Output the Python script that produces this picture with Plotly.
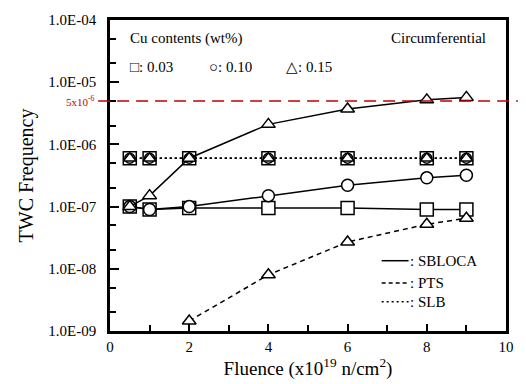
import plotly.graph_objects as go

fluence = [0.5, 1, 2, 4, 6, 8, 9]
fluence_pts = [2, 4, 6, 8, 9]

sbloca_003 = [1.0e-7, 9.0e-8, 9.5e-8, 9.5e-8, 9.5e-8, 9.0e-8, 9.0e-8]
sbloca_010 = [1.0e-7, 9.0e-8, 1.0e-7, 1.5e-7, 2.2e-7, 2.9e-7, 3.2e-7]
sbloca_015 = [1.0e-7, 1.5e-7, 6.0e-7, 2.1e-6, 3.7e-6, 5.2e-6, 5.7e-6]
pts_015 = [1.45e-9, 8.0e-9, 2.7e-8, 5.2e-8, 6.5e-8]
slb_all = [6.0e-7, 6.0e-7, 6.0e-7, 6.0e-7, 6.0e-7, 6.0e-7, 6.0e-7]

limit_value = 5e-6
xtick_vals = [0, 2, 4, 6, 8, 10]
ytick_vals = [1e-9, 1e-8, 1e-7, 1e-6, 1e-5, 1e-4]
ytick_text = ["1.0E-09", "1.0E-08", "1.0E-07", "1.0E-06", "1.0E-05", "1.0E-04"]

FONT = "Liberation Serif"
DASH = "5px,4px"
DOT = "2px,3px"
mk = dict(color="white", line=dict(color="black", width=1.5))

fig = go.Figure()

def add(x, y, dash, symbol, size):
    fig.add_trace(go.Scatter(
        x=x, y=y, mode="lines+markers",
        line=dict(color="black", width=1.5, dash=dash),
        marker=dict(symbol=symbol, size=size, **mk),
        showlegend=False, cliponaxis=False, hoverinfo="skip"))

# SLB
add(fluence, slb_all, DOT, "square", 13)
add(fluence, slb_all, DOT, "circle", 10)
add(fluence, slb_all, DOT, "triangle-up", 11)
# SBLOCA
add(fluence, sbloca_003, "solid", "square", 13)
add(fluence, sbloca_010, "solid", "circle", 12)
add(fluence, sbloca_015, "solid", "triangle-up", 12)
# PTS
add(fluence_pts, pts_015, DASH, "triangle-up", 12)

# red limit line
fig.add_shape(type="line", xref="paper", yref="y", x0=-0.03, x1=1.03,
              y0=limit_value, y1=limit_value,
              line=dict(color="#c00000", width=1.5, dash="12px,7px"))
fig.add_annotation(xref="paper", yref="y", x=-0.032, y=-5.301, yanchor="middle",
                   text="5x10<sup>-6</sup>", showarrow=False, xanchor="right",
                   font=dict(family=FONT, size=11, color="#c00000"))

# top-left text
fig.add_annotation(xref="paper", yref="paper", x=0.045, y=0.94, text="Cu contents (wt%)",
                   showarrow=False, xanchor="left", yanchor="middle",
                   font=dict(family=FONT, size=15, color="black"))
for xp, t in [(0.045, "□: 0.03"), (0.246, "○: 0.10"), (0.44, "△: 0.15")]:
    fig.add_annotation(xref="paper", yref="paper", x=xp, y=0.849, text=t,
                       showarrow=False, xanchor="left", yanchor="middle",
                       font=dict(family=FONT, size=15, color="black"))
fig.add_annotation(xref="paper", yref="paper", x=0.955, y=0.943, text="Circumferential",
                   showarrow=False, xanchor="right", yanchor="middle",
                   font=dict(family=FONT, size=15, color="black"))

# bottom-right line legend
for yp, dash, label in [(0.226, "solid", ": SBLOCA"), (0.154, "4px,3px", ": PTS"), (0.094, DOT, ": SLB")]:
    fig.add_shape(type="line", xref="paper", yref="paper", x0=0.686, x1=0.754, y0=yp, y1=yp,
                  line=dict(color="black", width=1.5, dash=dash))
    fig.add_annotation(xref="paper", yref="paper", x=0.752, y=yp, text=label, showarrow=False,
                       xanchor="left", yanchor="middle",
                       font=dict(family=FONT, size=15, color="black"))

fig.update_layout(
    width=526, height=384,
    margin=dict(l=110, r=18, t=14, b=52),
    paper_bgcolor="white", plot_bgcolor="white",
    font=dict(family=FONT, size=14, color="black"),
    xaxis=dict(range=[0, 10], tickmode="array", tickvals=xtick_vals,
               ticks="inside", ticklen=7, tickwidth=2, tickcolor="black",
               minor=dict(ticks="inside", ticklen=6, tickwidth=2, dtick=1,
                          tickcolor="black", showgrid=False),
               showline=True, linecolor="black", linewidth=2.5, mirror=True,
               showgrid=False, zeroline=False,
               tickfont=dict(family=FONT, size=15, color="black"),
               title=dict(text="Fluence (x10<sup>19</sup> n/cm<sup>2</sup>)",
                          font=dict(family=FONT, size=19, color="black"), standoff=4)),
    yaxis=dict(type="log", range=[-9, -4], tickmode="array", tickvals=ytick_vals, ticktext=ytick_text,
               ticks="inside", ticklen=9, tickwidth=2, tickcolor="black",
               minor=dict(ticks="inside", ticklen=6, tickwidth=1.5, tickcolor="black",
                          showgrid=False),
               showline=True, linecolor="black", linewidth=2.5, mirror=True,
               showgrid=False, zeroline=False, ticklabelstandoff=8,
               tickfont=dict(family=FONT, size=15, color="black"),
               title=dict(text="TWC Frequency", font=dict(family=FONT, size=20, color="black"),
                          standoff=10)),
)

fig.write_html("out.html")
